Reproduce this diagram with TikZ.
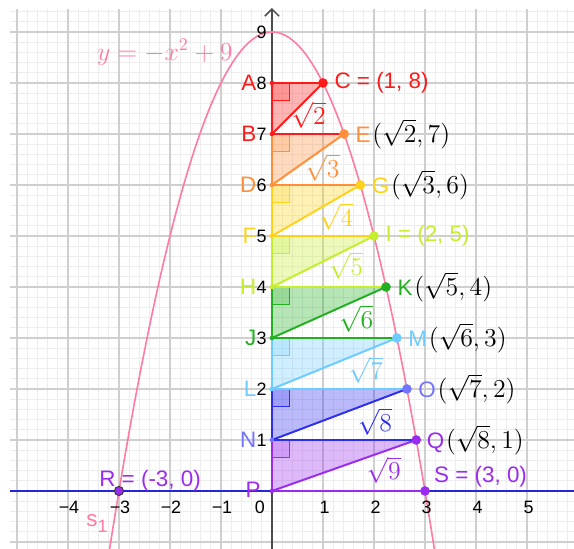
\documentclass[tikz,border=0pt]{standalone}
\usepackage{fontspec}
\newfontfamily\lab{Liberation Sans}
\usetikzlibrary{arrows.meta}
\definecolor{cR}{HTML}{FF1A1A}
\definecolor{cO}{HTML}{FF8F3A}
\definecolor{cY}{HTML}{FFD21A}
\definecolor{cL}{HTML}{C4EE2E}
\definecolor{cG}{HTML}{22B022}
\definecolor{cC}{HTML}{6CCBFF}
\definecolor{cB}{HTML}{2E2EF0}
\definecolor{cN}{HTML}{7373FF}
\definecolor{cP}{HTML}{9A2CF0}
\definecolor{cPk}{HTML}{FF7BA3}
\definecolor{axblue}{HTML}{2626D9}
\definecolor{gmaj}{HTML}{CFCFCF}
\definecolor{gmin}{HTML}{EDEDED}
\newcommand\mm[1]{{\fontsize{14}{16}\selectfont\color{black}$#1$}}
\begin{document}
\begin{tikzpicture}[x=1cm,y=1cm,
  labl/.style={font=\lab\fontsize{12.5}{14}\selectfont, inner sep=0pt},
  tickl/.style={font=\lab\fontsize{10}{11}\selectfont, inner sep=0pt},
  mth/.style={font=\fontsize{14}{16}\selectfont, inner sep=0pt},
  leg/.style={line width=1.1pt},
  rmark/.style={line width=0.8pt, fill opacity=0.2},
  tri/.style={fill opacity=0.33}]
\useasboundingbox (-5.333,-1.137) rectangle (5.922,9.627);
% grid
\draw[gmin, line width=0.4pt, step=0.2] (-5.14,-1.137) grid (5.922,9.45);
\draw[gmaj, line width=0.6pt, step=1] (-5.14,-1.137) grid (5.922,9.45);
% y axis
\coordinate (ybot) at (0,-1.137);
\coordinate (ytop) at (0,9.47);
\draw[black!70, line width=0.8pt, -{Straight Barb[length=4pt,width=8pt]}] (ybot) -- (ytop);
% x line
\coordinate (xl) at (-5.14,0);
\coordinate (xr) at (5.922,0);
\draw[axblue, line width=1.1pt] (xl) -- (xr);
% points
\coordinate (A) at (0,8); \coordinate (B) at (0,7); \coordinate (D) at (0,6);
\coordinate (F) at (0,5); \coordinate (H) at (0,4); \coordinate (J) at (0,3);
\coordinate (L) at (0,2); \coordinate (N) at (0,1); \coordinate (P) at (0,0);
\coordinate (C) at (1,8); \coordinate (E) at ({sqrt(2)},7); \coordinate (G) at ({sqrt(3)},6);
\coordinate (I) at (2,5); \coordinate (K) at ({sqrt(5)},4); \coordinate (M) at ({sqrt(6)},3);
\coordinate (O) at ({sqrt(7)},2); \coordinate (Q) at ({sqrt(8)},1); \coordinate (S) at (3,0);
\coordinate (R) at (-3,0);
% fills
\fill[cR, tri] (A) -- (B) -- (C) -- cycle;
\fill[cO, tri] (B) -- (D) -- (E) -- cycle;
\fill[cY, tri] (D) -- (F) -- (G) -- cycle;
\fill[cL, tri] (F) -- (H) -- (I) -- cycle;
\fill[cG, tri] (H) -- (J) -- (K) -- cycle;
\fill[cC, tri] (J) -- (L) -- (M) -- cycle;
\fill[cB, tri] (L) -- (N) -- (O) -- cycle;
\fill[cP, tri] (N) -- (P) -- (Q) -- cycle;
% right angle marks
\draw[cR, fill=cR, rmark] (A) rectangle ++(0.34,-0.34);
\draw[cO, fill=cO, rmark] (B) rectangle ++(0.34,-0.34);
\draw[cY, fill=cY, rmark] (D) rectangle ++(0.34,-0.34);
\draw[cL, fill=cL, rmark] (F) rectangle ++(0.34,-0.34);
\draw[cG, fill=cG, rmark] (H) rectangle ++(0.34,-0.34);
\draw[cC, fill=cC, rmark] (J) rectangle ++(0.34,-0.34);
\draw[cB, fill=cB, rmark] (L) rectangle ++(0.34,-0.34);
\draw[cP, fill=cP, rmark] (N) rectangle ++(0.34,-0.34);
% parabola
\draw[cPk, line width=0.9pt, domain=-3.185:3.185, samples=120] plot (\x,{9-\x*\x});
% legs
\draw[cR, leg] (A) -- (B); \draw[cR, leg] (B) -- (C); \draw[cR, leg] (A) -- (C);
\draw[cO, leg] (B) -- (D); \draw[cO, leg] (D) -- (E); \draw[cR, leg] (B) -- (E);
\draw[cY, leg] (D) -- (F); \draw[cY, leg] (F) -- (G); \draw[cO, leg] (D) -- (G);
\draw[cL, leg] (F) -- (H); \draw[cL, leg] (H) -- (I); \draw[cY, leg] (F) -- (I);
\draw[cG, leg] (H) -- (J); \draw[cG, leg] (J) -- (K); \draw[cL, leg] (H) -- (K);
\draw[cC, leg] (J) -- (L); \draw[cC, leg] (L) -- (M); \draw[cG, leg] (J) -- (M);
\draw[cB, leg] (L) -- (N); \draw[cB, leg] (N) -- (O); \draw[cC, leg] (L) -- (O);
\draw[cP, leg] (N) -- (P); \draw[cP, leg] (P) -- (Q); \draw[cB, leg] (N) -- (Q);
\draw[cP, leg] (P) -- (S);
% dots
\fill[cR] (A) circle (0.045); \fill[cR] (B) circle (0.045); \fill[cO] (D) circle (0.045);
\fill[cY] (F) circle (0.045); \fill[cL] (H) circle (0.045); \fill[cG] (J) circle (0.045);
\fill[cC] (L) circle (0.045); \fill[cN] (N) circle (0.045); \fill[cP] (P) circle (0.045);
\fill[cR] (C) circle (0.095); \fill[cO] (E) circle (0.095); \fill[cY] (G) circle (0.095);
\fill[cL] (I) circle (0.095); \fill[cG] (K) circle (0.095); \fill[cC] (M) circle (0.095);
\fill[cN] (O) circle (0.095); \fill[cP] (Q) circle (0.095); \fill[cP] (S) circle (0.095);
\draw[cP, fill=cP, draw=black!80, line width=0.5pt] (R) circle (0.09);
% right labels
\node[labl, anchor=west, text=cR] (lC) at ([xshift=0.22cm]C) {C = (1, 8)};
\node[labl, anchor=west, text=cO] (lE) at ([xshift=0.22cm]E) {E\hspace{1pt}\mm{(\sqrt{2},7)}};
\node[labl, anchor=west, text=cY] (lG) at ([xshift=0.22cm]G) {G\hspace{1pt}\mm{(\sqrt{3},6)}};
\node[labl, anchor=west, text=cL] (lI) at ([xshift=0.22cm]I) {I = (2, 5)};
\node[labl, anchor=west, text=cG] (lK) at ([xshift=0.22cm]K) {K\hspace{1pt}\mm{(\sqrt{5},4)}};
\node[labl, anchor=west, text=cC] (lM) at ([xshift=0.22cm]M) {M\hspace{1pt}\mm{(\sqrt{6},3)}};
\node[labl, anchor=west, text=cN] (lO) at ([xshift=0.22cm]O) {O\hspace{1pt}\mm{(\sqrt{7},2)}};
\node[labl, anchor=west, text=cP] (lQ) at ([xshift=0.2cm]Q) {Q\hspace{1pt}\mm{(\sqrt{8},1)}};
\node[labl, text=cP] (lS) at (4.09,0.27) {S = (3, 0)};
\node[labl, text=cP] (lR) at (-2.39,0.2) {R = (-3, 0)};
% left labels
\node[labl, anchor=east, text=cR] (lA) at (-0.3,8) {A};
\node[labl, anchor=east, text=cR] (lB) at (-0.3,7) {B};
\node[labl, anchor=east, text=cO] (lD) at (-0.3,6) {D};
\node[labl, anchor=east, text=cY] (lF) at (-0.3,5) {F};
\node[labl, anchor=east, text=cL] (lH) at (-0.3,4) {H};
\node[labl, anchor=east, text=cG] (lJ) at (-0.3,3) {J};
\node[labl, anchor=east, text=cC] (lL) at (-0.3,2) {L};
\node[labl, anchor=east, text=cN] (lN) at (-0.3,1) {N};
\node[labl, text=cP] (lP) at (-0.37,0.02) {P};
% hypotenuse labels
\node[mth, text=cR] (h2) at (0.72,7.37) {$\sqrt{2}$};
\node[mth, text=cO] (h3) at (0.99,6.34) {$\sqrt{3}$};
\node[mth, text=cY] (h4) at (1.26,5.38) {$\sqrt{4}$};
\node[mth, text=cL] (h5) at (1.45,4.42) {$\sqrt{5}$};
\node[mth, text=cG] (h6) at (1.65,3.38) {$\sqrt{6}$};
\node[mth, text=cC] (h7) at (1.84,2.37) {$\sqrt{7}$};
\node[mth, text=cB] (h8) at (2.02,1.36) {$\sqrt{8}$};
\node[mth, text=cP] (h9) at (2.19,0.41) {$\sqrt{9}$};
% tick labels
\foreach \k in {1,...,9} { \node[tickl, anchor=east] (ty\k) at (-0.1,\k) {\k}; }
\foreach \k in {1,...,5} { \node[tickl] (tx\k) at (\k+0.03,-0.32) {\k}; }
\foreach \k in {1,...,4} { \node[tickl] (tn\k) at (-\k+0.02,-0.32) {−\k}; }
\node[tickl] (t0) at (-0.24,-0.32) {0};
% curve labels
\node[mth, text=cPk] (fl) at (-2.1,8.6) {$y=-x^2+9$};
\node[labl, text=cPk] (s1) at (-3.43,-0.63) {s\raisebox{-0.5ex}{\fontsize{10}{10}\selectfont 1}};
\end{tikzpicture}
\end{document}
